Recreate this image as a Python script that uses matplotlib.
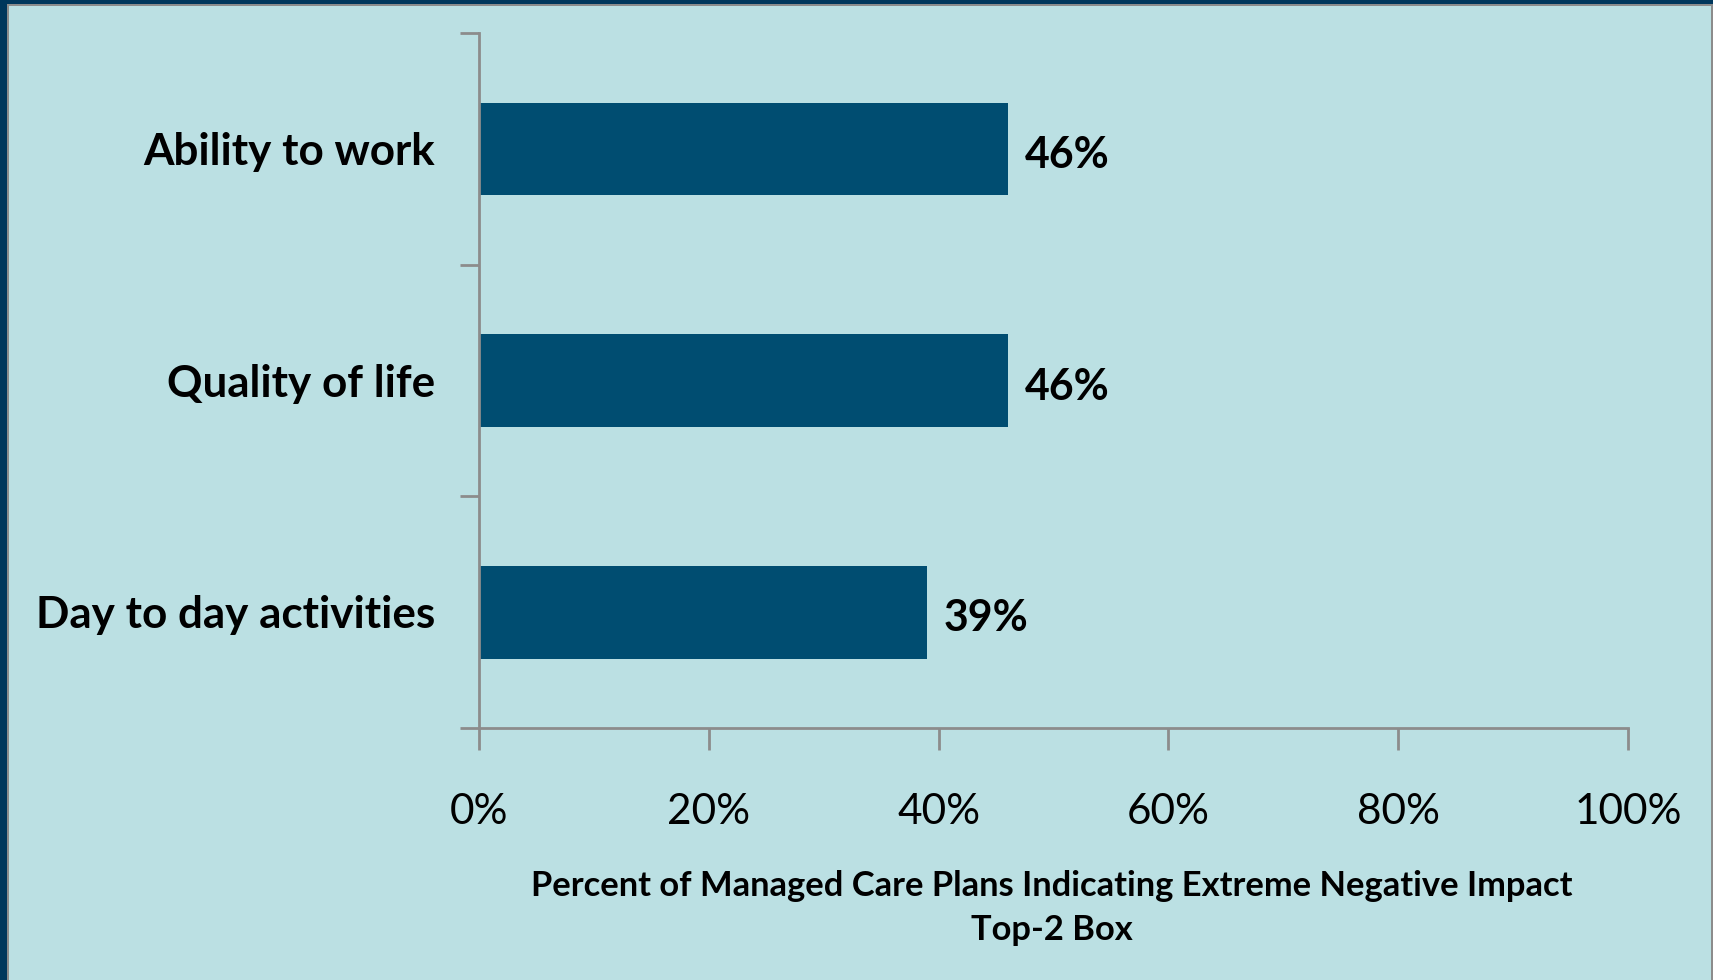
import matplotlib
matplotlib.use("Agg")
import matplotlib.pyplot as plt
from matplotlib.patches import Rectangle
from matplotlib.ticker import FuncFormatter
from matplotlib.transforms import offset_copy

categories = ["Day to day activities", "Quality of life", "Ability to work"]
values = [39, 46, 46]
x_ticks = [0, 20, 40, 60, 80, 100]
xlabel_text = "Percent of Managed Care Plans Indicating Extreme Negative Impact\nTop-2 Box"

W, H = 1713, 980
BG = "#BBE0E3"
NAVY = "#00375C"
BAR = "#004D71"
AXIS = "#8C8C8C"
FONT = "Lato"

fig = plt.figure(figsize=(W / 100, H / 100), dpi=100)
fig.patch.set_facecolor(NAVY)

def px_rect(x0, y0, x1, y1, color, z):
    # rectangle in pixel coordinates measured from the top-left corner
    fig.patches.append(Rectangle((x0 / W, 1 - y1 / H), (x1 - x0) / W, (y1 - y0) / H,
                                 transform=fig.transFigure, facecolor=color,
                                 edgecolor="none", zorder=z))

px_rect(7, 4, W, H, "#8C8C8C", -10)
px_rect(9, 6, W - 2, H, BG, -9)

ax_left, ax_right, ax_top, ax_bottom = 479, 1628, 33, 728
ax = fig.add_axes([ax_left / W, 1 - ax_bottom / H,
                   (ax_right - ax_left) / W, (ax_bottom - ax_top) / H])
ax.set_facecolor("none")

y = list(range(len(categories)))
ax.barh(y, values, height=0.4, color=BAR, zorder=2)
ax.set_xlim(0, 100)
ax.set_ylim(-0.5, len(categories) - 0.5)

# text baselines sit a little below the bar centres so the glyphs look centred
value_tr = offset_copy(ax.transData, fig=fig, x=17, y=-19, units="dots")
label_tr = offset_copy(ax.transData, fig=fig, x=-44, y=-16, units="dots")

for yi, v in zip(y, values):
    ax.text(v, yi, f"{v}%", va="baseline", ha="left", transform=value_tr,
            fontsize=30.9, fontweight="bold", family=FONT, color="black")

for side in ("top", "right"):
    ax.spines[side].set_visible(False)
for side in ("left", "bottom"):
    ax.spines[side].set_color(AXIS)
    ax.spines[side].set_linewidth(2)

ax.set_xticks(x_ticks)
ax.xaxis.set_major_formatter(FuncFormatter(lambda v, p: f"{v:.0f}%"))
ax.tick_params(axis="x", length=16, width=2, color=AXIS, pad=30.5,
               labelsize=30.5)
for lab in ax.get_xticklabels():
    lab.set_family(FONT)

# category labels sit between boundary ticks
ax.set_yticks([-0.5, 0.5, 1.5, 2.5])
ax.set_yticklabels([])
ax.tick_params(axis="y", length=14, width=2, color=AXIS)
for yi, name in zip(y, categories):
    ax.text(0, yi, name, ha="right", va="baseline", fontsize=31.7,
            fontweight="bold", family=FONT, color="black",
            transform=label_tr)

fig.text(1052 / W, 1 - 908 / H, xlabel_text, ha="center", va="center",
         fontsize=24.8, fontweight="bold", family=FONT, linespacing=1.47)

fig.savefig("out.png", dpi=100, facecolor=fig.get_facecolor())
